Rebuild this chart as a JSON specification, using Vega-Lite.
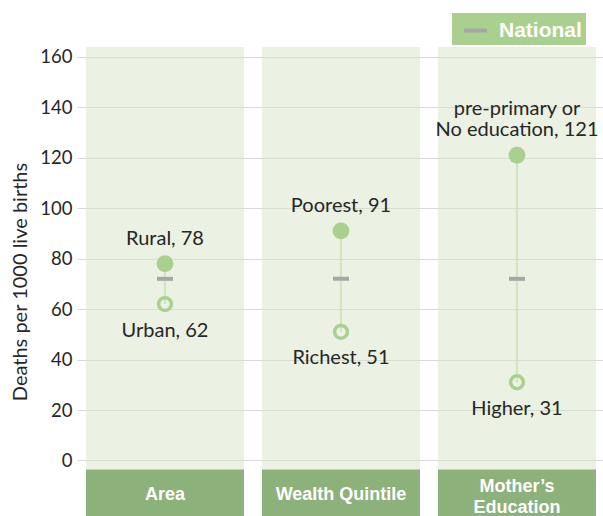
{
  "$schema": "https://vega.github.io/schema/vega-lite/v6.json",
  "width": 517,
  "height": 469,
  "autosize": {"type": "none"},
  "padding": {"left": 86, "top": 47, "right": 0, "bottom": 0},
  "background": "white",
  "config": {"view": {"stroke": null}, "font": "Lato"},
  "data": {
    "values": [
      {"group": "Area", "high": 78, "highLabel": "Rural, 78", "low": 62, "lowLabel": "Urban, 62", "national": 72},
      {"group": "Wealth Quintile", "high": 91, "highLabel": "Poorest, 91", "low": 51, "lowLabel": "Richest, 51", "national": 72},
      {"group": "Mother’s\nEducation", "high": 121, "highLabel": "pre-primary or\nNo education, 121", "low": 31, "lowLabel": "Higher, 31", "national": 72}
    ]
  },
  "encoding": {
    "x": {
      "field": "group",
      "type": "nominal",
      "sort": null,
      "axis": null,
      "scale": {"paddingInner": 0.10227, "paddingOuter": 0.01989, "align": 0}
    }
  },
  "layer": [
    {
      "mark": {"type": "rect", "fill": "#d7e3c7", "fillOpacity": 0.5},
      "encoding": {
        "y": {
          "datum": -3.6,
          "type": "quantitative",
          "title": "Deaths per 1000 live births",
          "scale": {"domain": [-22, 163.9], "nice": false, "zero": false},
          "axis": {
            "values": [0, 20, 40, 60, 80, 100, 120, 140, 160],
            "grid": true,
            "gridColor": "#d9d9d9",
            "gridWidth": 1,
            "tickColor": "#d9d9d9",
            "tickSize": 9,
            "domain": false,
            "labelFont": "Lato",
            "labelFontSize": 18.5,
            "labelColor": "#262626",
            "labelPadding": 5,
            "titleFont": "Lato",
            "titleFontSize": 20,
            "titleFontWeight": "normal",
            "titleColor": "#262626",
            "titlePadding": 9
          }
        },
        "y2": {"datum": 163.9}
      }
    },
    {
      "mark": {"type": "rect", "fill": "#8db17b"},
      "encoding": {
        "y": {"datum": -22, "type": "quantitative", "title": "Deaths per 1000 live births"},
        "y2": {"datum": -3.6}
      }
    },
    {
      "transform": [{"filter": "indexof(datum.group, '\\n') < 0"}],
      "mark": {"type": "text", "color": "white", "font": "Liberation Sans", "fontWeight": "bold", "fontSize": 18, "baseline": "middle"},
      "encoding": {
        "y": {"datum": -13.5, "type": "quantitative", "title": "Deaths per 1000 live births"},
        "text": {"field": "group"}
      }
    },
    {
      "transform": [{"filter": "indexof(datum.group, '\\n') >= 0"}],
      "mark": {"type": "text", "color": "white", "font": "Liberation Sans", "fontWeight": "bold", "fontSize": 18, "lineBreak": "\n", "lineHeight": 21, "baseline": "middle"},
      "encoding": {
        "y": {"datum": -10.6, "type": "quantitative", "title": "Deaths per 1000 live births"},
        "text": {"field": "group"}
      }
    },
    {
      "mark": {"type": "rule", "stroke": "#c5e0b4", "strokeWidth": 1.5},
      "encoding": {
        "y": {"field": "low", "type": "quantitative", "title": "Deaths per 1000 live births"},
        "y2": {"field": "high"}
      }
    },
    {
      "mark": {"type": "tick", "orient": "horizontal", "size": 16, "thickness": 4, "opacity": 1},
      "encoding": {
        "y": {"field": "national", "type": "quantitative", "title": "Deaths per 1000 live births"},
        "color": {
          "datum": "National",
          "type": "nominal",
          "scale": {"range": ["#a6a6a6"]},
          "legend": {
            "title": null,
            "orient": "none",
            "legendX": 366,
            "legendY": -34,
            "fillColor": "#a9d08e",
            "padding": 4,
            "symbolType": "stroke",
            "symbolStrokeWidth": 4,
            "symbolSize": 529,
            "symbolStrokeColor": "#a6a6a6",
            "symbolOffset": 6,
            "labelColor": "white",
            "labelFont": "Liberation Sans",
            "labelFontWeight": "bold",
            "labelFontSize": 21,
            "labelOffset": 10
          }
        }
      }
    },
    {
      "mark": {"type": "circle", "size": 283, "color": "#a9d08e", "opacity": 1},
      "encoding": {
        "y": {"field": "high", "type": "quantitative", "title": "Deaths per 1000 live births"}
      }
    },
    {
      "mark": {"type": "point", "shape": "circle", "filled": false, "size": 165, "stroke": "#a9d08e", "strokeWidth": 3.5, "opacity": 1},
      "encoding": {
        "y": {"field": "low", "type": "quantitative", "title": "Deaths per 1000 live births"}
      }
    },
    {
      "transform": [{"filter": "indexof(datum.highLabel, '\\n') < 0"}],
      "mark": {"type": "text", "baseline": "bottom", "dy": -15, "fontSize": 20, "color": "#262626"},
      "encoding": {
        "y": {"field": "high", "type": "quantitative", "title": "Deaths per 1000 live births"},
        "text": {"field": "highLabel"}
      }
    },
    {
      "transform": [{"filter": "indexof(datum.highLabel, '\\n') >= 0"}],
      "mark": {"type": "text", "baseline": "bottom", "dy": -36, "fontSize": 20, "color": "#262626", "lineBreak": "\n", "lineHeight": 21},
      "encoding": {
        "y": {"field": "high", "type": "quantitative", "title": "Deaths per 1000 live births"},
        "text": {"field": "highLabel"}
      }
    },
    {
      "mark": {"type": "text", "baseline": "top", "dy": 16.5, "fontSize": 20, "color": "#262626"},
      "encoding": {
        "y": {"field": "low", "type": "quantitative", "title": "Deaths per 1000 live births"},
        "text": {"field": "lowLabel"}
      }
    }
  ]
}
